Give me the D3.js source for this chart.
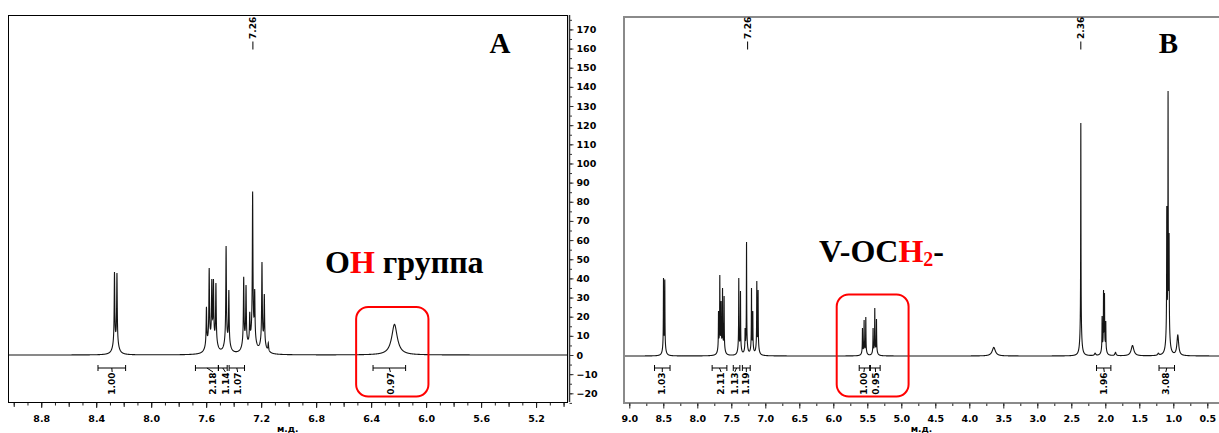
<!DOCTYPE html>
<html>
<head>
<meta charset="utf-8">
<script src="https://cdn.jsdelivr.net/npm/d3@7"></script>
<style>
body { margin: 0; background: #fff; }
svg { display: block; }
.lbl { font-family: "DejaVu Sans", Verdana, sans-serif; font-weight: bold; font-size: 9px; fill: #000; }
.tick-lbl { font-family: "DejaVu Sans", Verdana, sans-serif; font-weight: bold; font-size: 9.5px; fill: #000; }
.big { font-family: "Liberation Serif", "Times New Roman", serif; font-weight: bold; fill: #000; }
</style>
</head>
<body>
<svg id="chart" width="1219" height="433"></svg>
<script>
// peaks: [ppm, height, half width (optional, sharp lines otherwise)]
var peaksA = [
    [8.267, 43.3], [8.249, 42.8],
    [7.598, 25.2], [7.578, 45.4], [7.559, 39.7], [7.547, 39.7], [7.529, 37.6],
    [7.455, 56.9], [7.435, 33.9],
    [7.327, 40.9], [7.310, 36.6], [7.283, 22.6], [7.262, 85.3], [7.247, 34.5],
    [7.194, 48.6], [7.177, 31.9], [7.148, 6.4],
    [6.230, 16.0, 0.026]
];
var peaksB = [
    [8.497, 40.7], [8.478, 40.0],
    [7.688, 23.5], [7.669, 42.3], [7.650, 28.7], [7.629, 35.5], [7.606, 31.3],
    [7.390, 40.7], [7.365, 33.9],
    [7.297, 14.6], [7.276, 59.5],
    [7.203, 35.5], [7.184, 23.5], [7.125, 39.2], [7.106, 34.5],
    [5.571, 14.6], [5.547, 18.8], [5.522, 20.4],
    [5.415, 14.6], [5.390, 25.1], [5.365, 19.3],
    [3.640, 4.5, 0.03],
    [2.360, 121.7],
    [2.150, 1.5, 0.01],
    [2.047, 20.9], [2.026, 34.5], [2.012, 32.9], [1.993, 18.3],
    [1.850, 1.9, 0.01],
    [1.600, 5.5, 0.025],
    [1.220, 1.5, 0.01],
    [1.096, 78.3], [1.077, 138.4], [1.062, 64.2],
    [0.934, 11.0, 0.015]
];

// integrals: [from ppm, to ppm, label ppm, value]
var integralsA = [
    [8.387, 8.186, 8.284, "1.00"],
    [7.678, 7.511, 7.550, "2.18"],
    [7.511, 7.447, 7.460, "1.14"],
    [7.433, 7.321, 7.371, "1.07"],
    [6.386, 6.149, 6.260, "0.97"]
];
var integralsB = [
    [8.629, 8.401, 8.515, "1.03"],
    [7.782, 7.565, 7.650, "2.11"],
    [7.471, 7.374, 7.449, "1.13"],
    [7.337, 7.222, 7.279, "1.19"],
    [5.619, 5.465, 5.550, "1.00"],
    [5.454, 5.311, 5.378, "0.95"],
    [2.129, 1.918, 2.015, "1.96"],
    [1.210, 0.982, 1.110, "3.08"]
];

var peakLabelsA = [7.26];
var peakLabelsB = [7.26, 2.36];

var xTicksA = [8.8, 8.4, 8.0, 7.6, 7.2, 6.8, 6.4, 6.0, 5.6, 5.2];
var xTicksB = [9.0, 8.5, 8.0, 7.5, 7.0, 6.5, 6.0, 5.5, 5.0, 4.5, 4.0, 3.5, 3.0, 2.5, 2.0, 1.5, 1.0, 0.5];
var yTicksA = [170, 160, 150, 140, 130, 120, 110, 100, 90, 80, 70, 60, 50, 40, 30, 20, 10, 0, -10, -20];

var axisTitle = "м.д.";

var svg = d3.select("#chart");

var sharpWidth = 0.0025, tailWidth = 0.015, tailPart = 0.12;

function lineshape(d, g) {
    return (1 - tailPart) * g * g / (d * d + g * g) + tailPart * tailWidth * tailWidth / (d * d + tailWidth * tailWidth);
}

function total(peaks, amp, ppm) {
    var s = 0;
    for (var i = 0; i < peaks.length; i++) s += amp[i] * lineshape(ppm - peaks[i][0], peaks[i][2] || sharpWidth);
    return s;
}

// scale the line amplitudes so the summed curve reaches the read heights
function fitAmplitudes(peaks) {
    var amp = peaks.map(p => p[1]);
    for (var it = 0; it < 40; it++) {
        var sums = peaks.map(p => total(peaks, amp, p[0]));
        amp = amp.map((a, i) => a * peaks[i][1] / sums[i]);
    }
    return amp;
}

function spectrum(peaks, hi, lo) {
    var amp = fitAmplitudes(peaks), pts = [], step = 0.0005;
    var n = Math.round((hi - lo) / step);
    for (var k = 0; k <= n; k++) {
        var v = hi - k * step;
        pts.push([v, total(peaks, amp, v)]);
    }
    return pts;
}

function drawPanel(o) {
    var g = svg.append("g");
    var x = o.x, y = o.y;
    var left = x.range()[0], right = x.range()[1];

    g.append("clipPath").attr("id", o.id + "clip")
        .append("rect").attr("x", left).attr("y", o.top).attr("width", right - left).attr("height", o.bottom - o.top);

    g.append("path")
        .datum(spectrum(o.peaks, x.domain()[0], x.domain()[1]))
        .attr("clip-path", "url(#" + o.id + "clip)")
        .attr("fill", "none")
        .attr("stroke", "#151515")
        .attr("stroke-width", 1.1)
        .attr("d", d3.line().x(d => x(d[0])).y(d => y(d[1])));

    // frame
    g.append("rect")
        .attr("x", left).attr("y", o.top)
        .attr("width", right - left).attr("height", o.bottom - o.top)
        .attr("fill", "none")
        .attr("stroke", o.frameColor)
        .attr("stroke-width", o.frameWidth)
        .attr("shape-rendering", "crispEdges");

    // integrals
    var yb = 368;
    o.integrals.forEach(function(d) {
        var x0 = x(d[0]), x1 = x(d[1]), xl = x(d[2]), xm = (x0 + x1) / 2;
        g.append("line").attr("x1", x0).attr("x2", x1).attr("y1", yb).attr("y2", yb)
            .attr("stroke", "#000").attr("stroke-width", 1);
        [x0, x1].forEach(function(xc) {
            g.append("line").attr("x1", xc).attr("x2", xc).attr("y1", yb - 3).attr("y2", yb + 3)
                .attr("stroke", "#000").attr("stroke-width", 1);
        });
        g.append("line").attr("x1", xm).attr("x2", xl).attr("y1", yb).attr("y2", yb + 4)
            .attr("stroke", "#000").attr("stroke-width", 1);
        g.append("text").attr("class", "lbl")
            .attr("transform", "translate(" + xl + "," + (yb + 4.5) + ") rotate(-90)")
            .attr("text-anchor", "end")
            .attr("dy", "0.35em")
            .text(d[3]);
    });

    // peak picking labels
    o.peakLabels.forEach(function(p) {
        g.append("line").attr("x1", x(p)).attr("x2", x(p)).attr("y1", 41.5).attr("y2", 49.5)
            .attr("stroke", "#000").attr("stroke-width", 1);
        g.append("text").attr("class", "lbl")
            .attr("transform", "translate(" + x(p) + ",39) rotate(-90)")
            .attr("text-anchor", "start")
            .attr("dy", "0.35em")
            .text(p.toFixed(2));
    });

    // x axis
    var ax = g.append("g").attr("transform", "translate(0," + (o.bottom + 1) + ")");
    ax.append("g").call(d3.axisBottom(x).tickValues(o.minorTicks).tickSize(2.5).tickFormat(""));
    ax.append("g").call(d3.axisBottom(x).tickValues(o.midTicks).tickSize(4).tickFormat(""));
    ax.append("g").call(d3.axisBottom(x).tickValues(o.xTicks).tickSize(5).tickPadding(7).tickFormat(d3.format(".1f")));
    ax.selectAll(".domain").remove();
    ax.selectAll("line").attr("stroke", "#222");
    ax.selectAll("text").attr("class", "tick-lbl").attr("font-size", null).attr("font-family", null);

    g.append("text").attr("class", "lbl")
        .attr("x", (left + Math.min(right, 1219)) / 2)
        .attr("y", 432)
        .attr("text-anchor", "middle")
        .text(axisTitle);

    return g;
}

var xA = d3.scaleLinear().domain([9.038, 4.975]).range([8.5, 567]);
var yA = d3.scaleLinear().domain([0, 170]).range([355, 29.4]);
var xB = d3.scaleLinear().domain([9.078, 0.3]).range([624, 624 + 8.778 * 68]);
var yB = d3.scaleLinear().domain([0, 170]).range([356, 30.4]);

var gA = drawPanel({
    id: "a", x: xA, y: yA, top: 15, bottom: 402,
    peaks: peaksA, integrals: integralsA, peakLabels: peakLabelsA,
    xTicks: xTicksA,
    minorTicks: d3.range(9.0, 4.95, -0.1),
    midTicks: d3.range(9.0, 4.95, -0.2),
    frameColor: "#000", frameWidth: 1
});

var gB = drawPanel({
    id: "b", x: xB, y: yB, top: 16.5, bottom: 402.5,
    peaks: peaksB, integrals: integralsB, peakLabels: peakLabelsB,
    xTicks: xTicksB,
    minorTicks: d3.range(9.0, 0.3, -0.25),
    midTicks: [],
    frameColor: "#8a8a8a", frameWidth: 2
});

// intensity axis on the right of A
var yAx = gA.append("g").attr("transform", "translate(569.5,0)");
yAx.append("line").attr("x1", 0).attr("x2", 0).attr("y1", 15).attr("y2", 402)
    .attr("stroke", "#555").attr("stroke-width", 1.5);
yAx.append("g").call(d3.axisRight(yA).tickValues(d3.range(-25, 176, 5)).tickSize(2.5).tickFormat(""));
yAx.append("g").call(d3.axisRight(yA).tickValues(yTicksA).tickSize(4).tickPadding(3).tickFormat(d3.format("d")));
yAx.selectAll(".domain").remove();
yAx.selectAll("line").attr("stroke", "#333");
yAx.selectAll("text").attr("class", "tick-lbl").attr("font-size", null).attr("font-family", null);

// panel letters
gA.append("text").attr("class", "big").attr("x", 500).attr("y", 53)
    .attr("text-anchor", "middle").attr("font-size", 29).text("A");
gB.append("text").attr("class", "big").attr("x", 1168.5).attr("y", 53)
    .attr("text-anchor", "middle").attr("font-size", 29).text("B");

// highlighted groups
var boxA = [6.509, 5.983], boxB = [5.95, 4.893];
gA.append("rect").attr("x", xA(boxA[0])).attr("y", 307)
    .attr("width", xA(boxA[1]) - xA(boxA[0])).attr("height", 396.5 - 307)
    .attr("rx", 12).attr("fill", "none").attr("stroke", "#ff0000").attr("stroke-width", 2);
gB.append("rect").attr("x", xB(boxB[0])).attr("y", 294.5)
    .attr("width", xB(boxB[1]) - xB(boxB[0])).attr("height", 396.5 - 294.5)
    .attr("rx", 12).attr("fill", "none").attr("stroke", "#ff0000").attr("stroke-width", 2);

var tA = gA.append("text").attr("class", "big").attr("x", 325).attr("y", 273).attr("font-size", 32);
tA.append("tspan").text("O");
tA.append("tspan").attr("fill", "#ff0000").text("H");
tA.append("tspan").text(" группа");

var tB = gB.append("text").attr("class", "big").attr("x", 819).attr("y", 262).attr("font-size", 32);
tB.append("tspan").text("V-OC");
tB.append("tspan").attr("fill", "#ff0000").text("H");
tB.append("tspan").attr("fill", "#ff0000").attr("font-size", 20).attr("dy", 4).text("2");
tB.append("tspan").attr("dy", -4).text("-");
</script>
</body>
</html>
